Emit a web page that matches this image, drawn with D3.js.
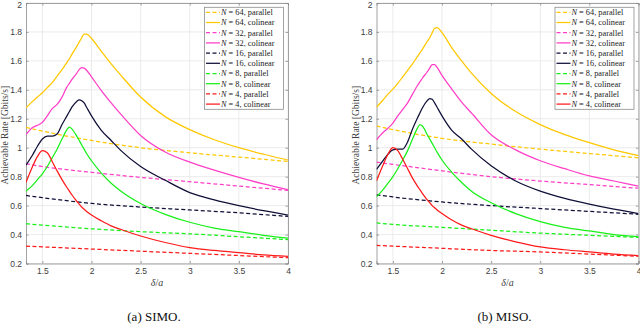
<!DOCTYPE html>
<html>
<head>
<meta charset="utf-8">
<script src="https://cdn.jsdelivr.net/npm/d3@7"></script>
<style>
	body { margin: 0; background: #fff; }
	svg { display: block; }
</style>
</head>
<body>
<div class="container"></div>
<script>
// x grid for the colinear curves, and a coarse one for the parallel ones
var xGrid = [1.333, 1.4, 1.45, 1.5, 1.55, 1.6, 1.65, 1.7, 1.75, 1.775, 1.8, 1.85, 1.875, 1.9, 1.925, 1.95, 2.0, 2.1, 2.2, 2.3, 2.5, 2.75, 3.0, 3.25, 3.5, 3.75, 4.0];
var pGrid = [1.333, 1.5, 2, 2.5, 3, 3.5, 4];

var sizes = [64, 32, 16, 8, 4];
var colors = ['#ffc800', '#ff3fc8', '#0f0f38', '#19f019', '#ff1a1a'];
var xTicks = [1.5, 2, 2.5, 3, 3.5, 4];
var yTicks = [0.2, 0.4, 0.6, 0.8, 1, 1.2, 1.4, 1.6, 1.8, 2];

// (a) SIMO
var simoColinear64 = [1.275, 1.32, 1.35, 1.38, 1.415, 1.45, 1.495, 1.54, 1.59, 1.615, 1.645, 1.70, 1.73, 1.76, 1.785, 1.785, 1.755, 1.665, 1.58, 1.50, 1.35, 1.215, 1.125, 1.055, 1.0, 0.955, 0.915];
var simoColinear32 = [1.09, 1.14, 1.155, 1.175, 1.22, 1.27, 1.30, 1.35, 1.42, 1.445, 1.47, 1.515, 1.54, 1.553, 1.55, 1.535, 1.49, 1.395, 1.31, 1.23, 1.085, 0.97, 0.90, 0.845, 0.795, 0.75, 0.71];
var simoColinear16 = [0.88, 0.95, 1.01, 1.06, 1.08, 1.08, 1.095, 1.16, 1.22, 1.25, 1.28, 1.32, 1.33, 1.325, 1.31, 1.28, 1.22, 1.12, 1.05, 0.98, 0.87, 0.775, 0.69, 0.64, 0.60, 0.565, 0.535];
var simoColinear8 = [0.70, 0.74, 0.78, 0.82, 0.87, 0.93, 0.99, 1.06, 1.125, 1.143, 1.13, 1.08, 1.05, 1.02, 0.99, 0.96, 0.91, 0.825, 0.755, 0.70, 0.615, 0.54, 0.485, 0.445, 0.42, 0.395, 0.375];
var simoColinear4 = [0.76, 0.87, 0.94, 0.98, 0.965, 0.905, 0.84, 0.78, 0.725, 0.70, 0.675, 0.63, 0.61, 0.59, 0.575, 0.56, 0.535, 0.495, 0.46, 0.435, 0.39, 0.345, 0.31, 0.29, 0.275, 0.26, 0.25];
var simoParallel64 = [1.14, 1.115, 1.05, 1.0, 0.965, 0.935, 0.905];
var simoParallel32 = [0.89, 0.87, 0.83, 0.795, 0.765, 0.735, 0.705];
var simoParallel16 = [0.67, 0.655, 0.615, 0.59, 0.57, 0.55, 0.525];
var simoParallel8 = [0.475, 0.465, 0.44, 0.42, 0.405, 0.385, 0.365];
var simoParallel4 = [0.32, 0.315, 0.30, 0.285, 0.27, 0.255, 0.24];

// (b) MISO
var misoColinear64 = [1.28, 1.33, 1.37, 1.405, 1.445, 1.49, 1.535, 1.58, 1.63, 1.655, 1.68, 1.735, 1.76, 1.795, 1.825, 1.83, 1.795, 1.69, 1.60, 1.515, 1.375, 1.25, 1.16, 1.09, 1.035, 0.985, 0.945];
var misoColinear32 = [1.055, 1.105, 1.135, 1.17, 1.22, 1.265, 1.31, 1.37, 1.43, 1.455, 1.48, 1.525, 1.55, 1.575, 1.575, 1.555, 1.50, 1.405, 1.315, 1.24, 1.09, 0.985, 0.91, 0.855, 0.805, 0.77, 0.735];
var misoColinear16 = [0.85, 0.91, 0.955, 0.985, 0.99, 0.99, 1.04, 1.13, 1.205, 1.24, 1.275, 1.325, 1.34, 1.335, 1.31, 1.28, 1.22, 1.12, 1.06, 0.99, 0.875, 0.77, 0.70, 0.65, 0.61, 0.575, 0.545];
var misoColinear8 = [0.66, 0.71, 0.755, 0.80, 0.855, 0.915, 0.98, 1.06, 1.135, 1.16, 1.15, 1.09, 1.06, 1.03, 1.0, 0.97, 0.915, 0.83, 0.76, 0.70, 0.62, 0.545, 0.49, 0.45, 0.425, 0.40, 0.385];
var misoColinear4 = [0.77, 0.88, 0.955, 1.0, 0.98, 0.92, 0.855, 0.79, 0.735, 0.71, 0.685, 0.64, 0.62, 0.60, 0.585, 0.57, 0.545, 0.50, 0.465, 0.44, 0.395, 0.35, 0.315, 0.295, 0.28, 0.265, 0.255];
var misoParallel64 = [1.15, 1.125, 1.065, 1.025, 0.99, 0.96, 0.93];
var misoParallel32 = [0.90, 0.885, 0.84, 0.80, 0.77, 0.745, 0.72];
var misoParallel16 = [0.675, 0.66, 0.625, 0.60, 0.58, 0.56, 0.54];
var misoParallel8 = [0.48, 0.47, 0.45, 0.43, 0.41, 0.395, 0.38];
var misoParallel4 = [0.325, 0.32, 0.305, 0.29, 0.28, 0.265, 0.25];

var panels = [
	{left: 26, caption: '(a) SIMO.',
		colinear: [simoColinear64, simoColinear32, simoColinear16, simoColinear8, simoColinear4],
		parallel: [simoParallel64, simoParallel32, simoParallel16, simoParallel8, simoParallel4]},
	{left: 376.5, caption: '(b) MISO.',
		colinear: [misoColinear64, misoColinear32, misoColinear16, misoColinear8, misoColinear4],
		parallel: [misoParallel64, misoParallel32, misoParallel16, misoParallel8, misoParallel4]}
];

var svg = d3.select('.container').append('svg')
	.attr('width', 640)
	.attr('height', 329);

var plotTop = 3, plotBottom = 263.5, plotW = 262;

function drawPanel(p) {
	var x = d3.scaleLinear().domain([4 / 3, 4]).range([p.left, p.left + plotW]);
	var y = d3.scaleLinear().domain([0.2, 2]).range([plotBottom, plotTop]);
	var g = svg.append('g');

	// grid
	g.selectAll('.gx').data(xTicks).enter().append('line')
		.attr('x1', function(d) { return x(d); }).attr('x2', function(d) { return x(d); })
		.attr('y1', plotTop).attr('y2', plotBottom)
		.style('stroke', '#e6e6e6').style('stroke-width', 0.8);
	g.selectAll('.gy').data(yTicks).enter().append('line')
		.attr('x1', p.left).attr('x2', p.left + plotW)
		.attr('y1', function(d) { return y(d); }).attr('y2', function(d) { return y(d); })
		.style('stroke', '#e6e6e6').style('stroke-width', 0.8);

	// axes (box on, ticks on all sides)
	var axB = g.append('g').attr('transform', 'translate(0,' + plotBottom + ')')
		.call(d3.axisBottom(x).tickValues(xTicks).tickSize(-2.5).tickPadding(4).tickFormat(d3.format('')));
	var axT = g.append('g').attr('transform', 'translate(0,' + plotTop + ')')
		.call(d3.axisTop(x).tickValues(xTicks).tickSize(-2.5).tickFormat(''));
	var axL = g.append('g').attr('transform', 'translate(' + p.left + ',0)')
		.call(d3.axisLeft(y).tickValues(yTicks).tickSize(-2.5).tickPadding(4).tickFormat(d3.format('')));
	var axR = g.append('g').attr('transform', 'translate(' + (p.left + plotW) + ',0)')
		.call(d3.axisRight(y).tickValues(yTicks).tickSize(-2.5).tickFormat(''));
	[axB, axT, axL, axR].forEach(function(a) {
		a.select('.domain').style('stroke', '#8c8c8c').style('stroke-width', 0.8);
		a.selectAll('.tick line').style('stroke', '#8c8c8c').style('stroke-width', 0.8);
		a.selectAll('text').style('font-family', 'Liberation Sans, Arial, sans-serif')
			.style('font-size', '8.5px').style('fill', '#404040');
	});
	// keep the top "2" inside the picture
	axL.selectAll('.tick text').filter(function(d) { return d === 2; }).attr('dy', '0.5em');

	var line = d3.line().curve(d3.curveMonotoneX);
	var clipId = 'clip' + Math.round(p.left);
	g.append('clipPath').attr('id', clipId).append('rect')
		.attr('x', p.left).attr('y', plotTop).attr('width', plotW).attr('height', plotBottom - plotTop);
	var curves = g.append('g').attr('clip-path', 'url(#' + clipId + ')');

	sizes.forEach(function(n, i) {
		curves.append('path')
			.datum(pGrid.map(function(v, j) { return [x(v), y(p.parallel[i][j])]; }))
			.attr('d', line)
			.style('fill', 'none').style('stroke', colors[i]).style('stroke-width', 1.25)
			.style('stroke-dasharray', '4,2.5');
		curves.append('path')
			.datum(xGrid.map(function(v, j) { return [x(v), y(p.colinear[i][j])]; }))
			.attr('d', line)
			.style('fill', 'none').style('stroke', colors[i]).style('stroke-width', 1.25);
	});

	// axis labels
	g.append('text')
		.attr('transform', 'translate(' + (p.left - 18) + ',' + ((plotTop + plotBottom) / 2 + 2) + ') rotate(-90)')
		.attr('text-anchor', 'middle')
		.style('font-family', 'Liberation Serif, serif').style('font-size', '9.5px').style('fill', '#404040')
		.text('Achievable Rate [Gbits/s]');

	var xl = g.append('text')
		.attr('x', p.left + plotW / 2).attr('y', 286)
		.attr('text-anchor', 'middle')
		.style('font-family', 'Liberation Serif, serif').style('font-size', '10px').style('fill', '#404040');
	xl.append('tspan').style('font-style', 'italic').text('δ');
	xl.append('tspan').text('/');
	xl.append('tspan').style('font-style', 'italic').text('a');

	// caption
	g.append('text')
		.attr('x', p.left + plotW / 2 - 3).attr('y', 321)
		.attr('text-anchor', 'middle')
		.style('font-family', 'Liberation Serif, serif').style('font-size', '13px').style('fill', '#111')
		.text(p.caption);

	// legend
	var lx = p.left + plotW - 83.5, ly = 7.3, rowH = 10.2;
	var leg = g.append('g');
	leg.append('rect')
		.attr('x', lx).attr('y', ly).attr('width', 79).attr('height', 102)
		.style('fill', '#fff').style('stroke', '#8c8c8c').style('stroke-width', 0.8);
	var rows = [];
	sizes.forEach(function(n, i) {
		rows.push({n: n, c: colors[i], kind: 'parallel', dash: '4,2.5'});
		rows.push({n: n, c: colors[i], kind: 'colinear', dash: null});
	});
	rows.forEach(function(r, k) {
		var cy = ly + 5 + k * rowH;
		leg.append('line')
			.attr('x1', lx + 1.5).attr('x2', lx + 15.5).attr('y1', cy).attr('y2', cy)
			.style('stroke', r.c).style('stroke-width', 1.25)
			.style('stroke-dasharray', r.dash);
		var t = leg.append('text')
			.attr('x', lx + 16.5).attr('y', cy + 2.8)
			.style('font-family', 'Liberation Serif, serif').style('font-size', '8.3px').style('fill', '#222');
		t.append('tspan').style('font-style', 'italic').text('N');
		t.append('tspan').text(' = ' + r.n + ', ' + r.kind);
	});
}

panels.forEach(drawPanel);
</script>
</body>
</html>
